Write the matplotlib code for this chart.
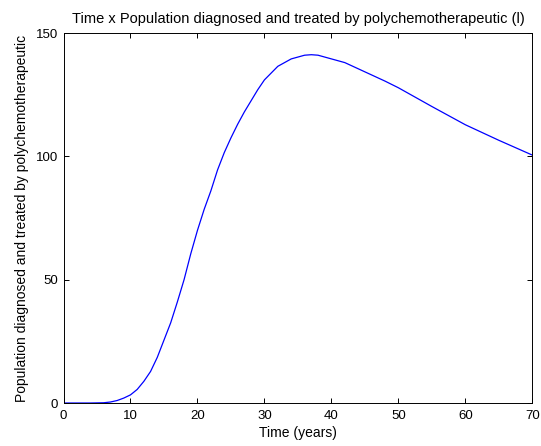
import matplotlib.pyplot as plt

# values
time_years = [0, 2, 4, 6, 7, 8, 9, 10, 11, 12, 13, 14, 15, 16, 17, 18, 19,
              20, 21, 22, 23, 24, 25, 26, 27, 28, 29, 30, 32, 34, 36, 37,
              38, 40, 42, 44, 46, 48, 50, 55, 60, 65, 70]
population = [0, 0, 0, 0.1, 0.4, 1.0, 2.0, 3.3, 5.5, 8.8, 12.8, 18.5, 25.5,
              32.5, 41, 50, 60.5, 70, 78.5, 86, 94.5, 101.5, 107.5, 113, 118,
              122.5, 127, 131, 136.5, 139.5, 141, 141.2, 141, 139.5, 138,
              135.5, 133, 130.5, 127.8, 120.2, 112.8, 106.5, 100.5]

x_ticks = [0, 10, 20, 30, 40, 50, 60, 70]
y_ticks = [0, 50, 100, 150]

plt.rcParams['font.family'] = ['Liberation Sans', 'DejaVu Sans']

fig = plt.figure(figsize=(5.41, 4.46), dpi=100)
ax = fig.add_axes([0.1174, 0.0964, 0.8666, 0.8296])

ax.plot(time_years, population, color='#0000ff', lw=0.9)

ax.set_xlim(0, 70)
ax.set_ylim(0, 150)
ax.set_xticks(x_ticks)
ax.set_yticks(y_ticks)
ax.tick_params(direction='in', top=True, right=True, length=3.6,
               width=0.7, labelsize=9.5)
ax.tick_params(axis='x', pad=5)
ax.tick_params(axis='y', pad=4)
for s in ax.spines.values():
    s.set_linewidth(0.7)

ax.set_title('Time x Population diagnosed and treated by polychemotherapeutic (l)',
             fontsize=10.5, pad=7)
ax.set_xlabel('Time (years)', fontsize=10, labelpad=3)
ax.set_ylabel('Population diagnosed and treated by polychemotherapeutic',
              fontsize=10, labelpad=5)

fig.savefig('out.png', dpi=100)
